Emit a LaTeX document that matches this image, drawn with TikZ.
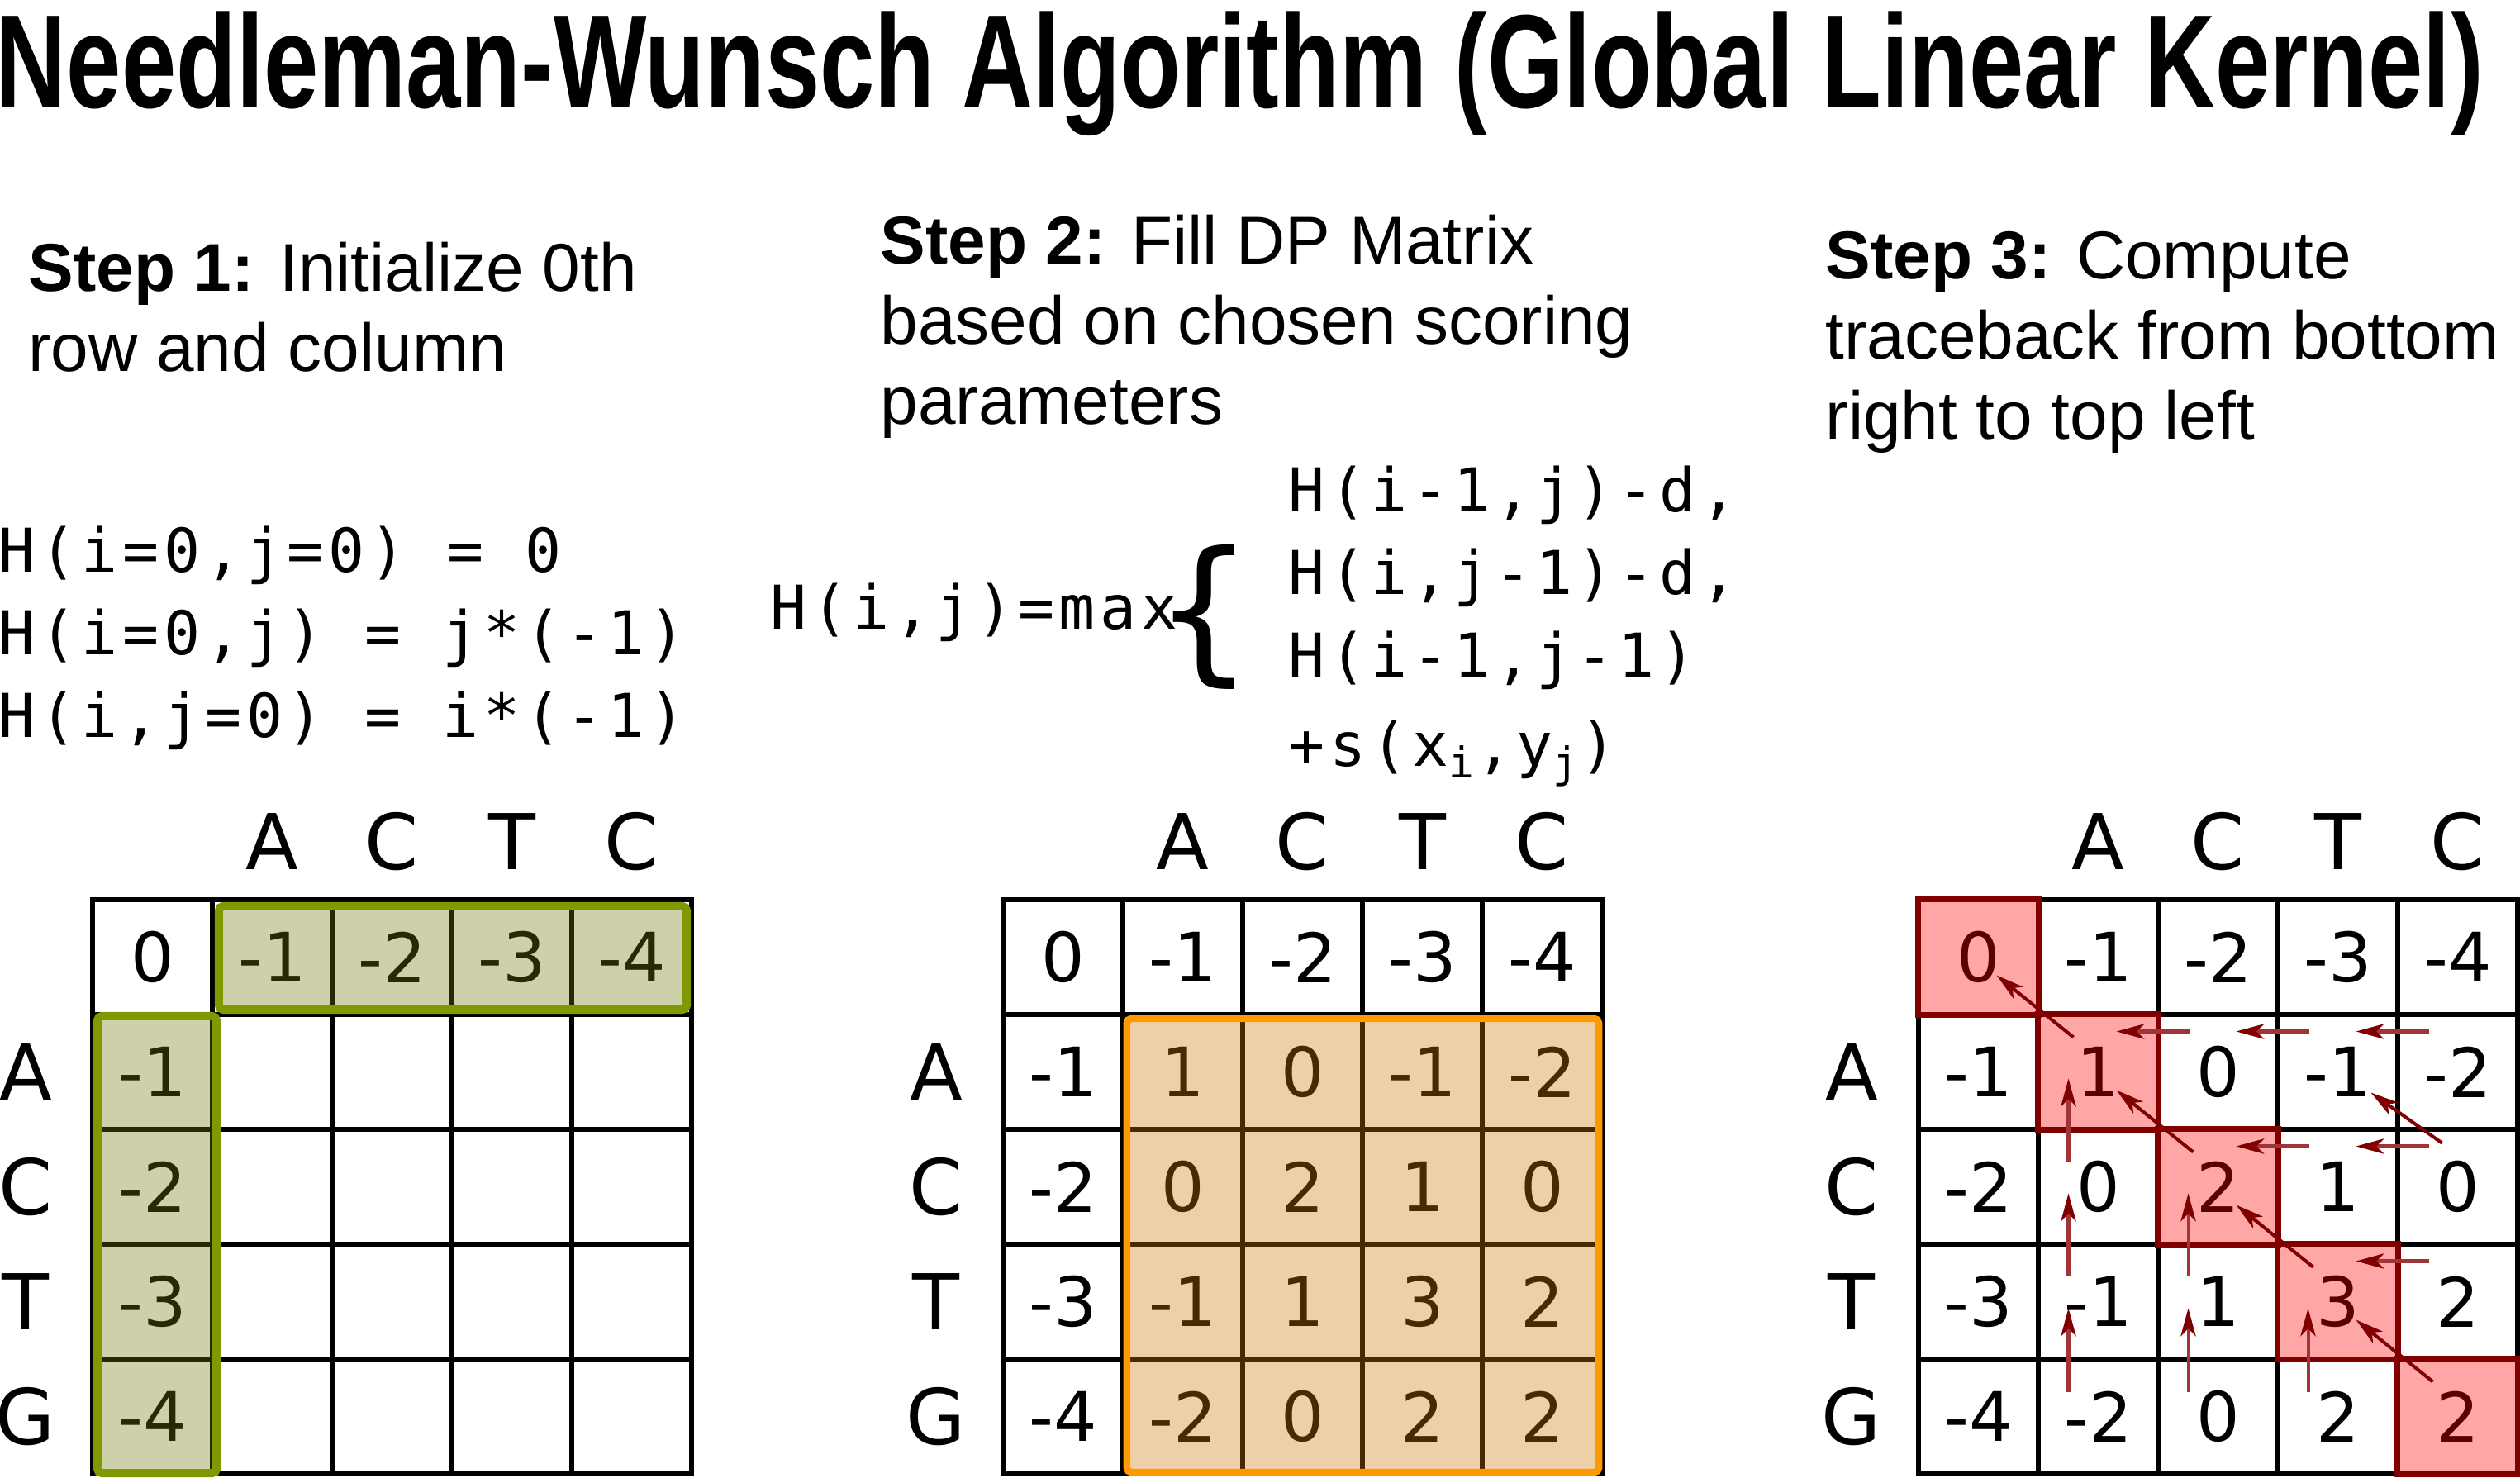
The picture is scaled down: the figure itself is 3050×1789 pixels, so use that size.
\documentclass[tikz,border=0pt]{standalone}
\usepackage{fontspec}
\setmainfont{Liberation Sans}
\newfontfamily\titlefont{Liberation Sans}[FakeStretch=0.74]
\newfontfamily\cellfont{DejaVu Sans}
\newfontfamily\eqfont{DejaVu Sans Mono}[LetterSpace=8]
\usetikzlibrary{arrows.meta}

\definecolor{hlgreen}{RGB}{128,153,0}
\definecolor{hlgreenfill}{RGB}{111,120,6}
\definecolor{hlorange}{RGB}{255,153,0}
\definecolor{hlorangefill}{RGB}{206,120,6}
\definecolor{tbred}{RGB}{128,0,0}
\definecolor{tbshaft}{RGB}{160,52,56}

\def\nwvals{{0,-1,-2,-3,-4},{-1,1,0,-1,-2},{-2,0,2,1,0},{-3,-1,1,3,2},{-4,-2,0,2,2}}

\begin{document}
\begin{tikzpicture}[
  x=0.01cm, y=-0.01cm,
  cell/.style={draw, line width=1.7pt, minimum width=1.45cm, minimum height=1.39cm,
              inner sep=0pt, outer sep=0pt, font=\cellfont\fontsize{23.5pt}{28pt}\selectfont},
  hdr/.style={inner sep=0pt, font=\cellfont\fontsize{26.5pt}{30pt}\selectfont},
  steptext/.style={anchor=base west, inner sep=0pt, align=left,
                   font=\fontsize{23.3pt}{27.6pt}\selectfont},
  eqtext/.style={anchor=base west, inner sep=0pt, align=left,
                 font=\eqfont\fontsize{20.8pt}{28.45pt}\selectfont},
  initbox/.style={draw=hlgreen, line width=2.85pt, rounded corners=1.5pt,
                  fill=hlgreenfill, fill opacity=0.35},
  fillbox/.style={draw=hlorange, line width=2.4pt, rounded corners=1.5pt,
                  fill=hlorangefill, fill opacity=0.35},
  pathbox/.style={draw=tbred, line width=2pt, fill=red, fill opacity=0.35},
  tracediag/.style={draw=tbred, line width=1.15pt, -{Stealth[length=9.6pt, width=5.2pt, inset=2.6pt]}},
  traceline/.style={draw=tbshaft, line width=1.15pt, -{Stealth[length=9.6pt, width=5.2pt, inset=2.6pt, color=tbred]}}
]
\useasboundingbox (0,0) rectangle (3050,1789);

\node[anchor=base west, inner sep=0pt, font=\titlefont\bfseries\fontsize{45.8pt}{50pt}\selectfont] (title) at (-6,131)
  {Needleman-Wunsch Algorithm (Global Linear Kernel)};

% base anchor sits on the last line
\node[steptext] (step1) at (34,450) {\textbf{Step 1:} Initialize 0th\\row and column};
\node[steptext] (step2) at (1065,514) {\textbf{Step 2:} Fill DP Matrix\\based on chosen scoring\\parameters};
\node[steptext] (step3) at (2209,532) {\textbf{Step 3:} Compute\\traceback from bottom\\right to top left};

\node[eqtext] (init) at (-2,893) {H(i=0,j=0) = 0\\H(i=0,j) = j*(-1)\\H(i,j=0) = i*(-1)};
\node[eqtext] (recur) at (932,762) {H(i,j)=max};
\node[inner sep=0pt, font=\cellfont\fontsize{54pt}{54pt}\selectfont] (brace) at (1457,747) {\{};
\node[eqtext] (cases) at (1559,928) {H(i-1,j)-d,\\H(i,j-1)-d,\\H(i-1,j-1)\\[2.3pt]+s(x\textsubscript{i},y\textsubscript{j})};

% matrices
\foreach \vals [count=\r from 0] in {{0,-1,-2,-3,-4},{-1,{},{},{},{}},{-2,{},{},{},{}},{-3,{},{},{},{}},{-4,{},{},{},{}}}
  \foreach \v [count=\c from 0] in \vals
    \node[cell] (m1-\r-\c) at ({184.5+145*\c},{1158.5+139*\r}) {\v};
\foreach \m/\xo in {2/1214,3/2322}
  \foreach \vals [count=\r from 0] in \nwvals
    \foreach \v [count=\c from 0] in \vals
      \node[cell] (m\m-\r-\c) at ({\xo+72.5+145*\c},{1158.5+139*\r}) {\v};

\foreach \m/\xo in {1/112,2/1214,3/2322} {
  \foreach \l [count=\c] in {A,C,T,C}
    \node[hdr] (top\m-\c) at ({\xo+72.5+145*\c},1019) {\l};
  \foreach \l [count=\r] in {A,C,T,G}
    \node[hdr] (side\m-\r) at ({\xo-81},{1158.5+139*\r}) {\l};
}

% highlights
\draw[initbox] ([shift={(8,8)}]m1-0-1.north west) rectangle ([shift={(-6,-6)}]m1-0-4.south east);
\draw[initbox] ([shift={(6,2)}]m1-1-0.north west) rectangle ([shift={(5,-1)}]m1-4-0.south east);
\draw[fillbox] ([shift={(5,5)}]m2-1-1.north west) rectangle ([shift={(-4,-2)}]m2-4-4.south east);
\foreach \k in {0,...,4}
  \draw[pathbox] (m3-\k-\k.north west) rectangle (m3-\k-\k.south east);

% traceback
\foreach \a/\b in {4-4/3-3,3-3/2-2,2-2/1-1,1-1/0-0}
  \draw[tracediag] ([shift={(-30,-42)}]m3-\a.center) -- ([shift={(22,22)}]m3-\b.center);
\draw[tracediag] ([shift={(-19,-53)}]m3-2-4.center) -- ([shift={(40,25)}]m3-1-3.center);
\foreach \a/\b in {1-2/1-1,1-3/1-2,1-4/1-3,2-3/2-2,2-4/2-3,3-4/3-3}
  \draw[traceline] ([shift={(-35,-49)}]m3-\a.center) -- ([shift={(22,-49)}]m3-\b.center);
\foreach \a/\b in {2-1/1-1,3-1/2-1,4-1/3-1,3-2/2-2,4-2/3-2,4-3/3-3}
  \draw[traceline] ([shift={(-36,-30)}]m3-\a.center) -- ([shift={(-36,8)}]m3-\b.center);

\end{tikzpicture}
\end{document}
